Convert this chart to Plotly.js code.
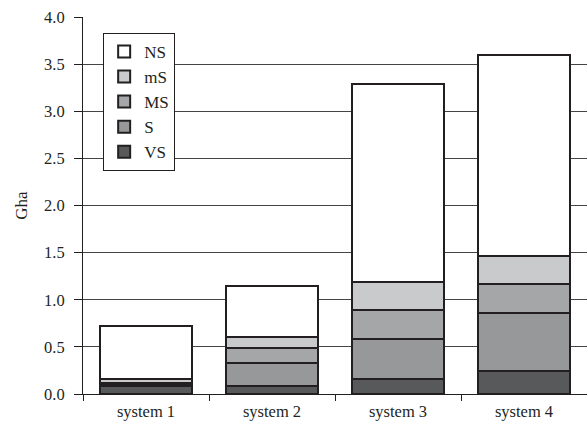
<!DOCTYPE html>
<html>
<head>
<meta charset="utf-8">
<script src="https://cdn.plot.ly/plotly-3.0.1.min.js"></script>
<style>html,body{margin:0;padding:0;background:#fff;}#chart{width:587px;height:436px;}</style>
</head>
<body>
<div id="chart"></div>
<script>
const categories = ["system 1", "system 2", "system 3", "system 4"];
const seriesNames = ["VS", "S", "MS", "mS", "NS"];
const VS = [0.08, 0.085, 0.16, 0.245];
const S  = [0.02, 0.245, 0.42, 0.615];
const MS = [0.02, 0.16, 0.31, 0.305];
const mS = [0.04, 0.115, 0.30, 0.30];
const NS = [0.56, 0.54, 2.10, 2.135];
const yTicks = [0, 0.5, 1.0, 1.5, 2.0, 2.5, 3.0, 3.5, 4.0];
const yTickLabels = ["0.0", "0.5", "1.0", "1.5", "2.0", "2.5", "3.0", "3.5", "4.0"];

const colors = {VS: "#58595b", S: "#97989a", MS: "#a5a6a8", mS: "#c9cacc", NS: "#ffffff"};
const values = {VS, S, MS, mS, NS};

const traces = seriesNames.map(n => ({
  type: "bar",
  name: n,
  x: categories,
  y: values[n],
  marker: {color: colors[n], line: {color: "#231f20", width: 2}},
  hoverinfo: "skip"
}));

const font = {family: "Liberation Serif, Times New Roman, serif", color: "#231f20"};

const layout = {
  width: 587, height: 436,
  margin: {l: 83, r: 0, t: 17, b: 42, pad: 0},
  paper_bgcolor: "#fff", plot_bgcolor: "#fff",
  barmode: "stack",
  bargap: 0.27,
  showlegend: true,
  legend: {
    x: 0.04, y: 0.958, xanchor: "left", yanchor: "top",
    traceorder: "reversed",
    bordercolor: "#231f20", borderwidth: 1, bgcolor: "#fff",
    font: Object.assign({size: 17}, font),
    itemwidth: 30
  },
  xaxis: {
    type: "category",
    showline: true, linecolor: "#231f20", linewidth: 1,
    ticks: "outside", tickson: "boundaries", ticklen: 6, tickcolor: "#231f20",
    tickfont: Object.assign({size: 16.5}, font),
    ticklabelstandoff: 2,
    showgrid: false, zeroline: false
  },
  yaxis: {
    range: [0, 4],
    tickvals: yTicks, ticktext: yTickLabels,
    showline: true, linecolor: "#231f20", linewidth: 1,
    ticks: "outside", ticklen: 8, tickcolor: "#231f20",
    tickfont: Object.assign({size: 16.5}, font),
    ticklabelstandoff: 6,
    showgrid: true, gridcolor: "#444", gridwidth: 1,
    zeroline: false,
    title: {text: "Gha", font: Object.assign({size: 17}, font), standoff: 12}
  }
};

Plotly.newPlot("chart", traces, layout, {displayModeBar: false, staticPlot: true});
</script>
</body>
</html>
